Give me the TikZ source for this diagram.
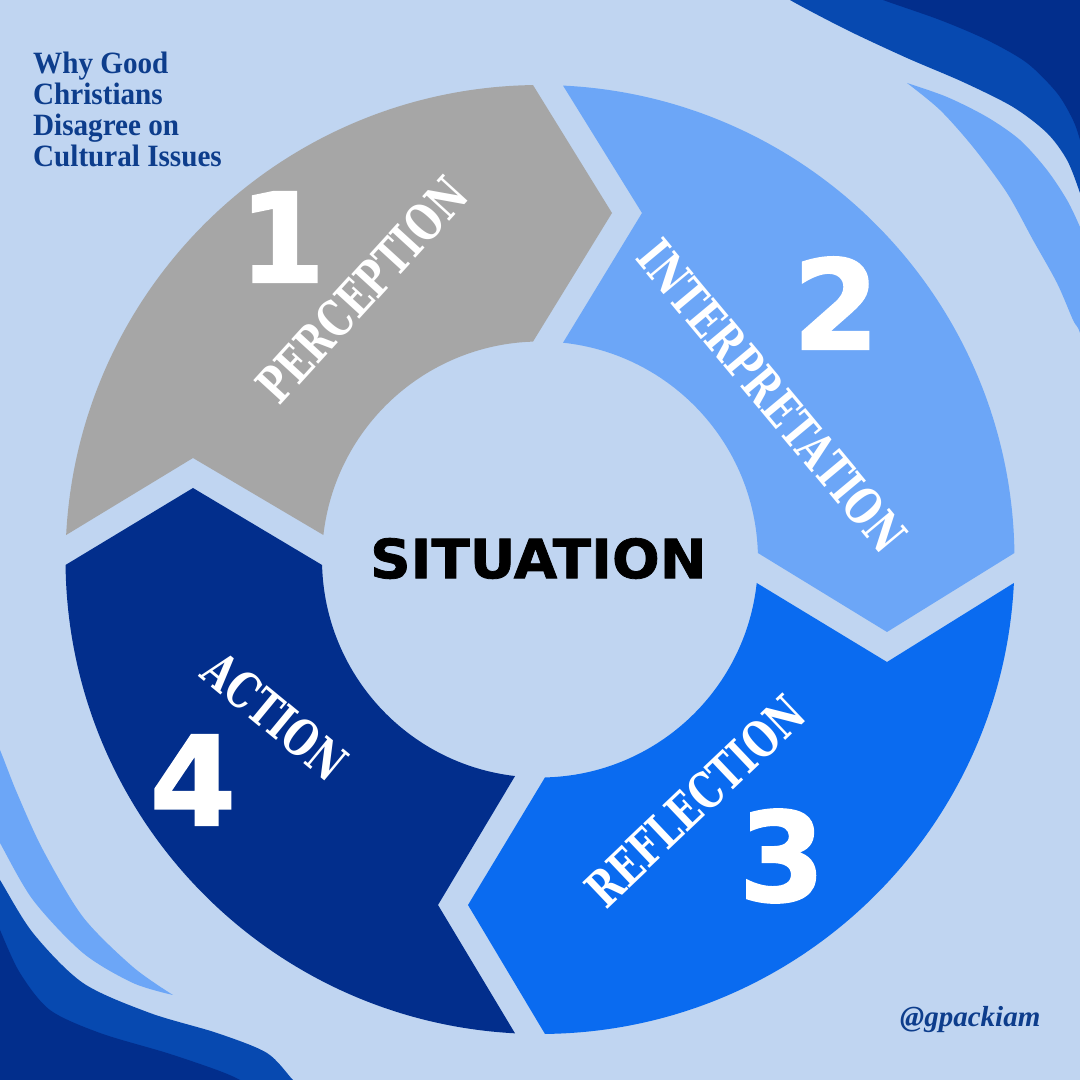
\documentclass[tikz,border=0pt]{standalone}
\usepackage{fontspec}
\usetikzlibrary{calc}
\newfontfamily\ttlfont{Liberation Serif}[FakeStretch=0.94]
\newfontfamily\hdlfont{Liberation Serif}
\newfontfamily\numfont{DejaVu Sans}[FakeBold=1.6]
\newfontfamily\sitfont{DejaVu Sans}[FakeBold=1.4,FakeStretch=1.04]
\newfontfamily\lblfont{DejaVu Serif}[FakeStretch=0.74]
\definecolor{bgc}{HTML}{C0D5F1}
\definecolor{cgray}{HTML}{A6A6A6}
\definecolor{clight}{HTML}{6CA6F7}
\definecolor{cblue}{HTML}{0A6BF0}
\definecolor{cnavy}{HTML}{022E8C}
\definecolor{cmed}{HTML}{0749B0}
\definecolor{navytxt}{HTML}{0D3D8C}
\begin{document}
\begin{tikzpicture}[x=1pt,y=1pt,
  numtxt/.style={text=white,font=\numfont\bfseries\fontsize{124}{124}\selectfont,inner sep=0},
  lbl/.style={text=white,font=\lblfont\bfseries\fontsize{50}{50}\selectfont,inner sep=0},
  ttl/.style={text=navytxt,font=\ttlfont\bfseries\fontsize{31}{31}\selectfont,inner sep=0,anchor=base west}]
\useasboundingbox (0,0) rectangle (1080,1080);
\fill[bgc] (0,0) rectangle (1080,1080);
\clip (0,0) rectangle (1080,1080);
% top-right corner waves
\fill[cmed] plot[smooth] coordinates {(770,1095) (790,1080) (847,1050) (907,1022) (963,998) (1013,973) (1047,947) (1067,920) (1080,887) (1088,860)} -- (1100,850) -- (1100,1100) -- (770,1100) -- cycle;
\fill[cnavy] plot[smooth] coordinates {(860,1090) (883,1080) (940,1060) (987,1040) (1027,1017) (1057,987) (1073,960) (1080,940) (1086,915)} -- (1100,900) -- (1100,1100) -- (860,1100) -- cycle;
\fill[clight] plot[smooth] coordinates {(907,997) (947,983) (987,963) (1020,940) (1047,910) (1067,880) (1080,853) (1090,828)} -- (1100,800) -- plot[smooth] coordinates {(1092,700) (1080,747) (1073,760) (1057,797) (1033,840) (1007,887) (973,933) (940,970) (907,997)} -- cycle;
% bottom-left corner waves
\fill[cmed] plot[smooth] coordinates {(-10,215) (0,200) (33,147) (83,97) (150,67) (217,47) (267,27) (293,0) (305,-10)} -- (-10,-10) -- cycle;
\fill[cnavy] plot[smooth] coordinates {(-8,170) (0,150) (20,107) (50,70) (100,47) (167,27) (217,10) (240,0) (252,-10)} -- (-10,-10) -- cycle;
\fill[clight] plot[smooth] coordinates {(173,85) (133,97) (83,127) (33,180) (0,237) (-10,255)} -- (-15,300) -- plot[smooth] coordinates {(-10,350) (0,330) (17,287) (43,230) (83,163) (133,113) (173,85)} -- cycle;
% ring segments
\coordinate (C) at (540,520.5);
\fill[cgray] ($(C)+(177.04:474.5)$) arc[start angle=177.04,end angle=90.845,radius=474.5pt] -- (612,867) -- ($(C)+(91.84:218)$) arc[start angle=91.84,end angle=173.55,radius=218pt] -- (193,622) -- cycle;
\fill[clight] ($(C)+(87.22:474.5)$) arc[start angle=87.22,end angle=0.785,radius=474.5pt] -- (887,448) -- ($(C)+(1.71:218)$) arc[start angle=1.71,end angle=83.94,radius=218pt] -- (642,867) -- cycle;
\fill[cblue] ($(C)+(-2.84:474.5)$) arc[start angle=-2.84,end angle=-89.40,radius=474.5pt] -- (468,175) -- ($(C)+(-88.69:218)$) arc[start angle=-88.69,end angle=-6.19,radius=218pt] -- (887,418) -- cycle;
\fill[cnavy] ($(C)+(-93.02:474.5)$) arc[start angle=-93.02,end angle=-179.34,radius=474.5pt] -- (193,592) -- ($(C)+(-178.55:218)$) arc[start angle=-178.55,end angle=-96.58,radius=218pt] -- (438,175) -- cycle;
% numbers
\node[numtxt] (n1) at (282,843) {1};
\node[numtxt] (n2) at (836,777) {2};
\node[numtxt] (n3) at (782,224) {3};
\node[numtxt] (n4) at (193,300) {4};
% labels
\node[lbl,rotate=47.6] (l1) at (362,790) {PERCEPTION};
\node[lbl,rotate=-50.2] (l2) at (772,684) {INTERPRETATION};
\node[lbl,rotate=43.5] (l3) at (695,279) {REFLECTION};
\node[lbl,rotate=-39.5] (l4) at (275,364) {ACTION};
% center
\node[inner sep=0,font=\sitfont\bfseries\fontsize{54}{54}\selectfont,text=black] (sit) at (538.5,521.5) {SITUATION};
% title
\node[ttl] (t1) at (33,1006) {Why Good};
\node[ttl] (t2) at (33,975) {Christians};
\node[ttl] (t3) at (33,944) {Disagree on};
\node[ttl] (t4) at (33,913) {Cultural Issues};
\node[inner sep=0,anchor=base west,text=navytxt,font=\hdlfont\bfseries\itshape\fontsize{29}{29}\selectfont] (handle) at (900,53) {@gpackiam};
\end{tikzpicture}
\end{document}
